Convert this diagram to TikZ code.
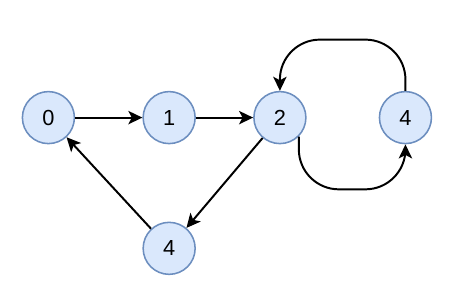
\documentclass[tikz,border=0pt]{standalone}
\usepackage{fontspec}
\setmainfont{Liberation Sans}
\usepackage{tikz}
\usetikzlibrary{arrows.meta, positioning, calc}
\definecolor{nodeblue}{HTML}{DAE8FC}
\definecolor{rimblue}{HTML}{6C8EBF}
\tikzset{
    vertex/.style={circle, draw=rimblue, fill=nodeblue, line width=1.1pt, minimum size=1.3cm, inner sep=0pt, font=\fontsize{15.5}{18}\selectfont},
    arrow/.style={-{Stealth[length=10pt, width=9.5pt, inset=2.5pt]}, line width=1.4pt, draw=black}
}

\begin{document}
\begin{tikzpicture}
        \useasboundingbox (0,0) rectangle (11.225,-7.65);
        \node[vertex] (v0) at (1.21,-2.94) {0};
        \node[vertex, right=1.68cm of v0] (v1) {1};
        \node[vertex, right=1.43cm of v1] (v2) {2};
        \node[vertex, right=1.8cm of v2] (v4r) {4};
        \node[vertex, below=1.93cm of v1] (v4b) {4};
        \draw[arrow] (v0) -- (v1);
        \draw[arrow] (v1) -- (v2);
        \draw[arrow] (v2) -- (v4b);
        \draw[arrow] (v4b) -- (v0);
        \draw[arrow, rounded corners=1cm] (v4r.north) -- ++(0,1.28) -| (v2.north);
        \draw[arrow, rounded corners=1cm] (v2.south east) -- ++(0,-1.32) -| (v4r.south);
    \end{tikzpicture}
\end{document}
